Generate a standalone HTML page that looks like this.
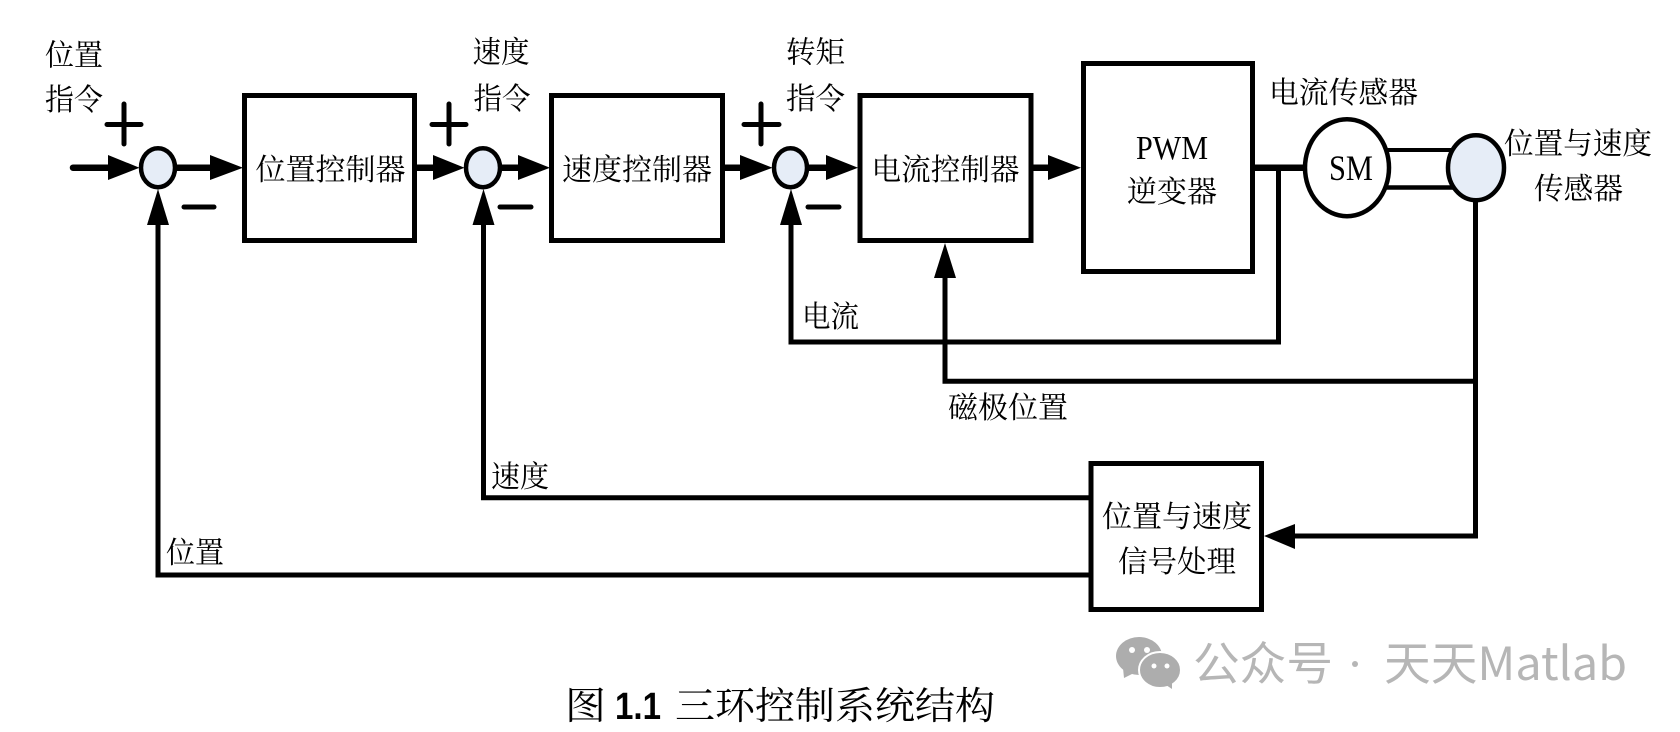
<!DOCTYPE html>
<html lang="zh"><head><meta charset="utf-8"><title>三环控制系统结构</title>
<style>
html,body{margin:0;padding:0;background:#fff;width:1680px;height:732px;overflow:hidden}
svg{display:block}
.t{font-family:"Liberation Serif","Noto Serif CJK SC",serif;font-size:30px;fill:#000}
.l{font-family:"Liberation Serif",serif;font-size:30px;fill:#000}
.c{font-family:"Liberation Serif","Noto Serif CJK SC",serif;font-size:38px;fill:#000}
.n{font-family:"Liberation Sans",sans-serif;font-size:38px;font-weight:bold;fill:#000}
.w{font-family:"Noto Sans CJK SC",sans-serif;font-size:46px;fill:#b6b6b6}
</style></head><body>
<svg width="1680" height="732" viewBox="0 0 1680 732" xmlns="http://www.w3.org/2000/svg">
<rect width="1680" height="732" fill="#fff"/>
<g fill="none" stroke="#000" stroke-width="5">
  <rect x="244.5" y="95.5" width="170" height="145"/>
  <rect x="551.5" y="95.5" width="171" height="145"/>
  <rect x="860" y="95.5" width="171" height="145"/>
  <rect x="1083.5" y="63.5" width="169" height="208"/>
  <rect x="1091" y="463.5" width="170.5" height="146"/>
  <!-- feedback -->
  <path d="M158 225V575H1089"/>
  <path d="M483.5 225V497.7H1089"/>
  <path d="M791 225V342H1278.5V167.7"/>
  <path d="M945 278V381.3H1475.5"/>
  <path d="M1475.5 200V536H1295"/>
</g>
<g fill="none" stroke="#000" stroke-width="6.5">
  <path d="M73 167.7H110" stroke-linecap="round"/>
  <path d="M175 167.7H212"/><path d="M417 167.7H435"/><path d="M500 167.7H520"/>
  <path d="M725 167.7H742"/><path d="M807 167.7H828"/><path d="M1033 167.7H1050"/>
  <path d="M1255 167.7H1305"/>
</g>
<g fill="#000">
  <path d="M108 155L139.5 167.7L108 180Z"/>
  <path d="M210 155L243 167.7L210 180Z"/>
  <path d="M433 155L464.5 167.7L433 180Z"/>
  <path d="M518 155L550 167.7L518 180Z"/>
  <path d="M740 155L772.5 167.7L740 180Z"/>
  <path d="M826 155L858 167.7L826 180Z"/>
  <path d="M1048 155L1081 167.7L1048 180Z"/>
  <path d="M147 225L158 189L169 225Z"/>
  <path d="M472.5 225L483.5 189L494.5 225Z"/>
  <path d="M780 225L791 189L802 225Z"/>
  <path d="M934 278L945 243L956 278Z"/>
  <path d="M1295 524L1264 536L1295 549Z"/>
</g>
<g stroke="#000" stroke-width="5" stroke-linecap="round" fill="none">
  <path d="M107 124.5H141M124 104V144"/>
  <path d="M432 124.5H466M449 104V144"/>
  <path d="M744 124.5H779M761 104V144"/>
  <path d="M184 207H214"/><path d="M500 207H531"/><path d="M808 207H839"/>
</g>
<!-- shafts -->
<path d="M1385 150H1455" stroke="#000" stroke-width="4"/>
<path d="M1385 187.5H1455" stroke="#000" stroke-width="4.5"/>
<g stroke="#000" stroke-width="4.5" fill="#e6edf7">
  <ellipse cx="158" cy="167.7" rx="17" ry="19.5"/>
  <ellipse cx="483" cy="167.7" rx="17" ry="19.5"/>
  <ellipse cx="790.5" cy="167.7" rx="16.5" ry="19.5"/>
  <ellipse cx="1476" cy="167.7" rx="28" ry="32.5"/>
  <ellipse cx="1347" cy="167.7" rx="42" ry="48.5" fill="#fff"/>
</g>
<!-- labels -->
<text class="t" x="45" y="65.5" textLength="58" lengthAdjust="spacingAndGlyphs">位置</text>
<text class="t" x="45" y="110" textLength="58" lengthAdjust="spacingAndGlyphs">指令</text>
<text class="t" x="472.5" y="62.5" textLength="57" lengthAdjust="spacingAndGlyphs">速度</text>
<text class="t" x="473.5" y="109" textLength="57" lengthAdjust="spacingAndGlyphs">指令</text>
<text class="t" x="786" y="62.5" textLength="59" lengthAdjust="spacingAndGlyphs">转矩</text>
<text class="t" x="786" y="109" textLength="59" lengthAdjust="spacingAndGlyphs">指令</text>
<text class="t" x="255.5" y="180" textLength="150" lengthAdjust="spacingAndGlyphs">位置控制器</text>
<text class="t" x="562" y="180" textLength="150" lengthAdjust="spacingAndGlyphs">速度控制器</text>
<text class="t" x="871.5" y="180" textLength="148" lengthAdjust="spacingAndGlyphs">电流控制器</text>
<text class="t" x="1269" y="103" textLength="149" lengthAdjust="spacingAndGlyphs">电流传感器</text>
<text class="t" x="1504" y="154" textLength="148" lengthAdjust="spacingAndGlyphs">位置与速度</text>
<text class="t" x="1534" y="199" textLength="89" lengthAdjust="spacingAndGlyphs">传感器</text>
<text class="l" transform="translate(1136 159) scale(1 1.12)" textLength="72" lengthAdjust="spacingAndGlyphs">PWM</text>
<text class="t" x="1127" y="202" textLength="90" lengthAdjust="spacingAndGlyphs">逆变器</text>
<text class="l" transform="translate(1329 180) scale(1 1.2)" textLength="44" lengthAdjust="spacingAndGlyphs">SM</text>
<text class="t" x="802" y="327" textLength="57" lengthAdjust="spacingAndGlyphs">电流</text>
<text class="t" x="948" y="418" textLength="120" lengthAdjust="spacingAndGlyphs">磁极位置</text>
<text class="t" x="491" y="487" textLength="58" lengthAdjust="spacingAndGlyphs">速度</text>
<text class="t" x="166" y="563" textLength="58" lengthAdjust="spacingAndGlyphs">位置</text>
<text class="t" x="1102" y="527" textLength="150" lengthAdjust="spacingAndGlyphs">位置与速度</text>
<text class="t" x="1118" y="572" textLength="118" lengthAdjust="spacingAndGlyphs">信号处理</text>
<!-- caption -->
<text class="c" x="565" y="719" textLength="41" lengthAdjust="spacingAndGlyphs">图</text>
<text class="n" x="615" y="719" textLength="46" lengthAdjust="spacingAndGlyphs">1.1</text>
<text class="c" x="675" y="719" textLength="320" lengthAdjust="spacingAndGlyphs">三环控制系统结构</text>
<!-- watermark -->
<g fill="#adadad">
  <ellipse cx="1139" cy="656" rx="23" ry="19"/>
  <path d="M1123 668L1124 678L1136 672Z"/>
  <ellipse cx="1160" cy="670" rx="21" ry="18" stroke="#fff" stroke-width="2"/>
  <path d="M1166 685L1172 689L1172 681Z"/>
  <circle cx="1132" cy="650" r="3" fill="#fff"/><circle cx="1147" cy="650" r="3" fill="#fff"/>
  <circle cx="1154" cy="666" r="2.5" fill="#fff"/><circle cx="1167" cy="666" r="2.5" fill="#fff"/>
</g>
<text class="w" x="1193" y="680" textLength="140" lengthAdjust="spacingAndGlyphs">公众号</text>
<circle cx="1355" cy="664" r="3" fill="#b6b6b6"/>
<text class="w" x="1384" y="680" textLength="243" lengthAdjust="spacingAndGlyphs">天天Matlab</text>
</svg>
</body></html>
